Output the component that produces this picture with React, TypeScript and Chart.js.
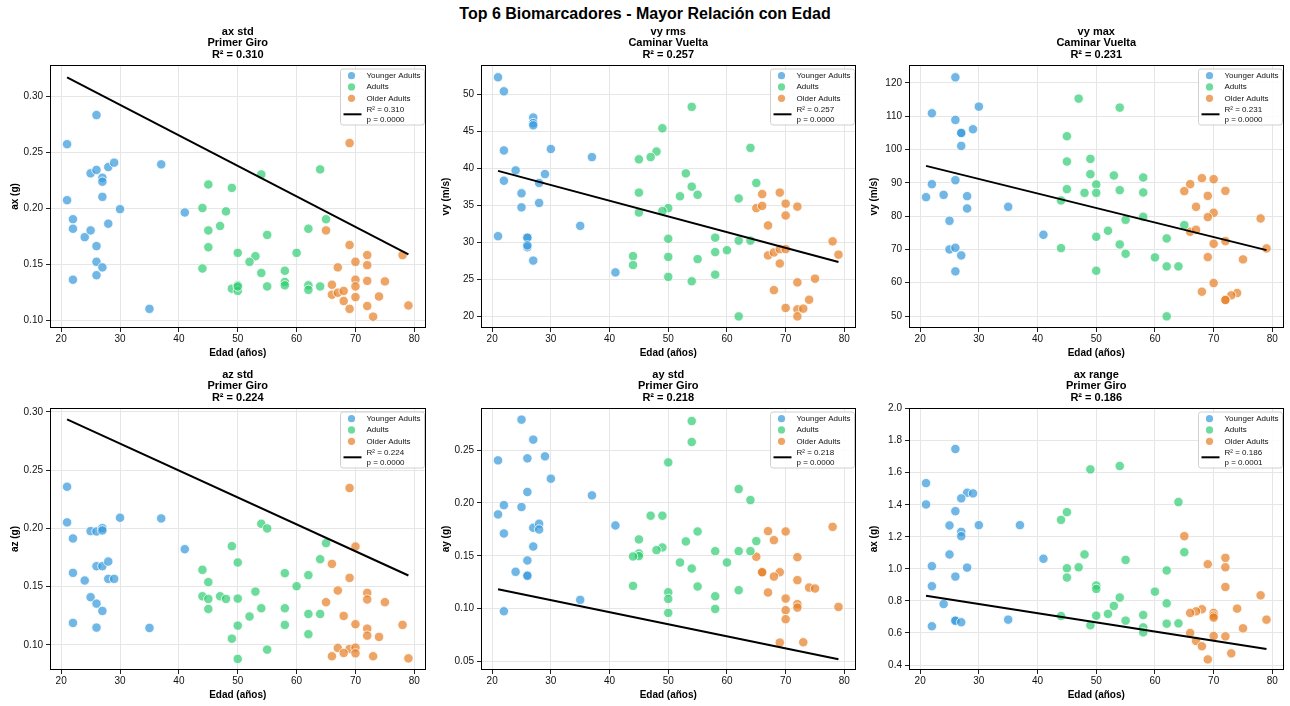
import React, { useEffect, useRef } from 'react';
import { Chart, registerables } from 'chart.js';

Chart.register(...registerables);

type Pt = [number, number];

const FONT = '"Liberation Sans", Arial, Helvetica, sans-serif';
Chart.defaults.font.family = FONT;

const mainTitle = 'Top 6 Biomarcadores - Mayor Relación con Edad';
const groupLabels = ['Younger Adults', 'Adults', 'Older Adults'];
const groupColors = ['rgba(52,152,219,0.7)', 'rgba(46,204,113,0.7)', 'rgba(230,126,34,0.7)'];
const xTitle = 'Edad (años)';
const xTicks = [20, 30, 40, 50, 60, 70, 80];

// 1: ax std - Primer Giro
const axStdYoung: Pt[] = [[21,0.257],[26,0.283],[21,0.207],[22,0.190],[22,0.1815],[22,0.136],[24,0.174],[25,0.180],[25,0.231],[26,0.234],[27,0.227],[27,0.2235],[27,0.210],[28,0.2366],[29,0.2405],[28,0.186],[30,0.199],[26,0.166],[26,0.152],[26,0.140],[27,0.147],[35,0.110],[37,0.239],[41,0.196]];
const axStdAdult: Pt[] = [[54,0.230],[45,0.221],[49,0.218],[44,0.200],[48,0.197],[47,0.184],[45,0.180],[45,0.165],[44,0.146],[55,0.176],[50,0.160],[53,0.157],[52,0.152],[54,0.142],[49,0.128],[50,0.131],[50,0.126],[50,0.130],[55,0.130],[58,0.144],[58,0.134],[58,0.131],[60,0.160],[62,0.1815],[62,0.131],[62,0.127],[64,0.130],[64,0.2345],[65,0.190]];
const axStdOlder: Pt[] = [[69,0.258],[65,0.180],[69,0.167],[78,0.158],[72,0.158],[70,0.152],[72,0.149],[67,0.147],[66,0.1315],[70,0.136],[72,0.135],[75,0.1345],[70,0.130],[66,0.1226],[67,0.1244],[68,0.126],[68,0.117],[70,0.1205],[74,0.121],[69,0.110],[72,0.1125],[73,0.103],[79,0.113]];
const axStdFit: Pt[] = [[21,0.3167],[79,0.1586]];
const axStdTicks = [0.10, 0.15, 0.20, 0.25, 0.30];

// 2: vy rms - Caminar Vuelta
const vyRmsYoung: Pt[] = [[21,52.3],[22,50.4],[22,42.4],[22,38.3],[24,39.7],[25,36.6],[25,34.7],[21,30.8],[27,46.85],[27,46.1],[27,45.8],[26,30.6],[26,30.6],[26,29.3],[26,29.55],[27,27.5],[28,38.0],[28,35.3],[29,39.2],[30,42.6],[35,32.2],[37,41.5],[41,25.9]];
const vyRmsAdult: Pt[] = [[54,48.3],[49,45.4],[48,42.25],[47,41.5],[45,41.2],[53,39.3],[54,37.5],[55,36.4],[52,36.2],[45,36.7],[50,34.6],[49,34.2],[45,34.0],[50,30.45],[58,30.6],[62,35.9],[64,42.75],[65,38.0],[62,30.2],[64,30.2],[60,28.9],[58,28.65],[55,27.7],[50,28.0],[44,28.1],[44,26.9],[50,25.3],[58,25.6],[54,24.7],[62,19.95]];
const vyRmsOlder: Pt[] = [[65,34.6],[66,36.5],[66,34.9],[69,36.7],[70,35.2],[72,34.8],[70,33.6],[67,32.25],[67,28.2],[68,28.6],[69,29.05],[70,29.05],[69,27.1],[78,30.1],[79,28.3],[75,25.05],[72,24.55],[68,23.5],[74,22.2],[70,21.1],[72,20.9],[73,21.0],[72,19.95]];
const vyRmsFit: Pt[] = [[21,39.64],[79,27.30]];
const vyRmsTicks = [20, 25, 30, 35, 40, 45, 50];

// 3: vy max - Caminar Vuelta
const vyMaxYoung: Pt[] = [[26,121.7],[22,110.9],[26,108.9],[30,112.9],[29,106.1],[27,104.9],[27,105.0],[27,101.1],[26,90.8],[22,89.6],[21,85.7],[24,86.4],[28,86.0],[28,82.3],[25,78.6],[25,70.0],[26,70.5],[27,68.2],[26,63.4],[35,82.8],[41,74.4]];
const vyMaxAdult: Pt[] = [[47,115.3],[54,112.6],[45,104.0],[45,96.4],[49,97.2],[49,92.6],[53,92.2],[58,91.6],[50,89.5],[45,88.1],[48,87.0],[50,87.0],[54,87.8],[58,87.1],[44,84.7],[58,79.8],[55,78.9],[65,77.3],[52,75.6],[50,73.8],[62,73.3],[54,71.5],[44,70.4],[55,68.7],[60,67.6],[50,63.6],[62,64.9],[64,64.9],[62,49.9]];
const vyMaxOlder: Pt[] = [[68,91.4],[70,91.1],[66,89.6],[65,87.5],[72,87.6],[69,86.1],[67,82.8],[70,81.0],[69,79.7],[78,79.3],[66,75.3],[67,75.9],[72,72.5],[70,71.7],[79,70.3],[69,67.7],[75,67.0],[70,59.9],[68,57.3],[74,56.9],[73,56.2],[72,54.9],[72,54.8]];
const vyMaxFit: Pt[] = [[21,95.1],[79,69.8]];
const vyMaxTicks = [50, 60, 70, 80, 90, 100, 110, 120];

// 4: az std - Primer Giro
const azStdYoung: Pt[] = [[21,0.2358],[21,0.2052],[22,0.1914],[22,0.1619],[22,0.1189],[24,0.1553],[25,0.1977],[25,0.1410],[26,0.1974],[26,0.1676],[26,0.1355],[26,0.1149],[27,0.2003],[27,0.1983],[27,0.1676],[27,0.1292],[28,0.1716],[28,0.1567],[29,0.1567],[30,0.2092],[35,0.1146],[37,0.2086],[41,0.1822]];
const azStdAdult: Pt[] = [[54,0.2040],[55,0.2000],[65,0.1874],[49,0.1848],[64,0.1736],[50,0.1708],[44,0.1645],[45,0.1539],[58,0.1616],[62,0.1599],[60,0.1504],[53,0.1458],[44,0.1418],[47,0.1418],[48,0.1395],[45,0.1395],[50,0.1398],[45,0.1309],[54,0.1315],[58,0.1315],[52,0.1244],[62,0.1266],[64,0.1266],[50,0.1166],[58,0.1172],[62,0.1092],[49,0.1054],[55,0.0960],[50,0.0880]];
const azStdOlder: Pt[] = [[69,0.2347],[70,0.1845],[66,0.1696],[69,0.1576],[67,0.1467],[72,0.1447],[72,0.1390],[75,0.1367],[65,0.1367],[68,0.1249],[70,0.1178],[78,0.1172],[72,0.1140],[72,0.1080],[74,0.1069],[67,0.0974],[69,0.0966],[70,0.0977],[68,0.0931],[70,0.0928],[66,0.0903],[73,0.0903],[79,0.0885]];
const azStdFit: Pt[] = [[21,0.2937],[79,0.1596]];
const azStdTicks = [0.10, 0.15, 0.20, 0.25, 0.30];

// 5: ay std - Primer Giro
const ayStdYoung: Pt[] = [[25,0.2787],[27,0.2598],[21,0.2402],[26,0.2421],[29,0.2440],[30,0.2229],[26,0.2103],[22,0.1979],[21,0.1891],[25,0.1961],[22,0.1711],[27,0.1765],[28,0.1803],[28,0.1749],[27,0.1588],[26,0.1456],[24,0.1349],[26,0.1317],[26,0.1311],[22,0.0976],[35,0.1084],[37,0.2071],[41,0.1787]];
const ayStdAdult: Pt[] = [[54,0.2774],[54,0.2576],[50,0.2383],[62,0.2131],[64,0.2027],[47,0.1879],[49,0.1879],[55,0.1730],[53,0.1636],[45,0.1655],[65,0.1639],[49,0.1579],[48,0.1554],[45,0.1522],[45,0.1497],[44,0.1494],[58,0.1544],[62,0.1544],[64,0.1544],[52,0.1437],[60,0.1437],[54,0.1380],[44,0.1216],[55,0.1210],[62,0.1175],[50,0.1156],[50,0.1093],[58,0.1118],[58,0.0998],[50,0.0961]];
const ayStdOlder: Pt[] = [[78,0.1774],[67,0.1733],[70,0.1730],[68,0.1648],[65,0.1491],[72,0.1487],[66,0.1345],[66,0.1345],[69,0.1345],[68,0.1304],[72,0.1270],[74,0.1200],[75,0.1191],[67,0.1153],[70,0.1096],[72,0.1043],[72,0.1011],[79,0.1017],[70,0.0986],[70,0.0901],[69,0.0680],[73,0.0683]];
const ayStdFit: Pt[] = [[21,0.1185],[79,0.0522]];
const ayStdTicks = [0.05, 0.10, 0.15, 0.20, 0.25];

// 6: ax range - Primer Giro
const axRangeYoung: Pt[] = [[26,1.748],[21,1.535],[21,1.402],[28,1.475],[29,1.471],[27,1.440],[26,1.360],[25,1.271],[30,1.273],[27,1.231],[27,1.204],[25,1.090],[22,1.017],[28,1.008],[26,0.952],[22,0.892],[24,0.781],[22,0.642],[26,0.675],[26,0.677],[27,0.667],[35,0.683],[37,1.273],[41,1.063]];
const axRangeAdult: Pt[] = [[49,1.621],[54,1.642],[64,1.417],[44,1.306],[45,1.354],[65,1.104],[48,1.090],[55,1.056],[47,1.010],[45,1.004],[62,0.990],[45,0.946],[50,0.896],[50,0.875],[60,0.858],[54,0.821],[62,0.785],[53,0.769],[52,0.719],[50,0.708],[58,0.712],[44,0.706],[55,0.677],[62,0.658],[64,0.660],[58,0.635],[49,0.648],[58,0.604]];
const axRangeOlder: Pt[] = [[65,1.204],[72,1.069],[69,1.029],[72,1.010],[72,0.887],[78,0.835],[74,0.752],[68,0.748],[67,0.735],[66,0.725],[70,0.725],[70,0.708],[70,0.696],[79,0.683],[75,0.629],[66,0.600],[70,0.581],[72,0.579],[67,0.550],[68,0.517],[73,0.473],[69,0.435]];
const axRangeFit: Pt[] = [[21,0.833],[79,0.500]];
const axRangeTicks = [0.4, 0.6, 0.8, 1.0, 1.2, 1.4, 1.6, 1.8, 2.0];

interface Spec {
  title: string[];
  yLabel: string;
  groups: Pt[][];
  fit: Pt[];
  r2: string;
  p: string;
  yTicks: number[];
  yMin: number;
  yMax: number;
  dec: number;
}

const specs: Spec[] = [
  { title: ['ax std', 'Primer Giro', 'R² = 0.310'], yLabel: 'ax (g)', groups: [axStdYoung, axStdAdult, axStdOlder], fit: axStdFit, r2: 'R² = 0.310', p: 'p = 0.0000', yTicks: axStdTicks, yMin: 0.0929, yMax: 0.3277, dec: 2 },
  { title: ['vy rms', 'Caminar Vuelta', 'R² = 0.257'], yLabel: 'vy (m/s)', groups: [vyRmsYoung, vyRmsAdult, vyRmsOlder], fit: vyRmsFit, r2: 'R² = 0.257', p: 'p = 0.0000', yTicks: vyRmsTicks, yMin: 18.38, yMax: 53.96, dec: 0 },
  { title: ['vy max', 'Caminar Vuelta', 'R² = 0.231'], yLabel: 'vy (m/s)', groups: [vyMaxYoung, vyMaxAdult, vyMaxOlder], fit: vyMaxFit, r2: 'R² = 0.231', p: 'p = 0.0000', yTicks: vyMaxTicks, yMin: 46.4, yMax: 125.4, dec: 0 },
  { title: ['az std', 'Primer Giro', 'R² = 0.224'], yLabel: 'az (g)', groups: [azStdYoung, azStdAdult, azStdOlder], fit: azStdFit, r2: 'R² = 0.224', p: 'p = 0.0000', yTicks: azStdTicks, yMin: 0.0785, yMax: 0.3034, dec: 2 },
  { title: ['ay std', 'Primer Giro', 'R² = 0.218'], yLabel: 'ay (g)', groups: [ayStdYoung, ayStdAdult, ayStdOlder], fit: ayStdFit, r2: 'R² = 0.218', p: 'p = 0.0000', yTicks: ayStdTicks, yMin: 0.0421, yMax: 0.2897, dec: 2 },
  { title: ['ax range', 'Primer Giro', 'R² = 0.186'], yLabel: 'ax (g)', groups: [axRangeYoung, axRangeAdult, axRangeOlder], fit: axRangeFit, r2: 'R² = 0.186', p: 'p = 0.0001', yTicks: axRangeTicks, yMin: 0.369, yMax: 2.004, dec: 1 },
];

// layout (plot-area boxes)
const colLeft = [50, 481, 909];
const colWidth = [377, 376, 376];
const rowTop = [65, 408];
const rowHeight = [263, 262];
const Y_AXIS_W = 50;
const TITLE_H = 45;
const X_AXIS_H = 31;
const RIGHT_PAD = 4;

function makeDecor(r2: string, p: string) {
  return {
    id: 'decor',
    afterDraw(chart: any) {
      const { ctx, chartArea: a } = chart;
      ctx.save();
      // frame
      ctx.strokeStyle = '#000';
      ctx.lineWidth = 1;
      ctx.strokeRect(Math.round(a.left) + 0.5, Math.round(a.top) + 0.5, Math.round(a.right - a.left) - 1, Math.round(a.bottom - a.top) - 1);
      // legend box
      const bw = 84, bh = 56;
      const bx = a.right - 1 - bw, by = a.top + 4;
      const r = 2.5;
      ctx.beginPath();
      ctx.moveTo(bx + r, by);
      ctx.lineTo(bx + bw - r, by);
      ctx.arcTo(bx + bw, by, bx + bw, by + r, r);
      ctx.lineTo(bx + bw, by + bh - r);
      ctx.arcTo(bx + bw, by + bh, bx + bw - r, by + bh, r);
      ctx.lineTo(bx + r, by + bh);
      ctx.arcTo(bx, by + bh, bx, by + bh - r, r);
      ctx.lineTo(bx, by + r);
      ctx.arcTo(bx, by, bx + r, by, r);
      ctx.closePath();
      ctx.fillStyle = 'rgba(255,255,255,0.85)';
      ctx.fill();
      ctx.strokeStyle = '#d0d0d0';
      ctx.lineWidth = 1;
      ctx.stroke();
      const mx = a.right - 74;
      const tx = a.right - 59;
      const rowsY = [a.top + 10.7, a.top + 21.9, a.top + 33.3];
      ctx.font = '8px ' + FONT;
      ctx.textBaseline = 'middle';
      ctx.textAlign = 'left';
      groupColors.forEach((c, i) => {
        ctx.beginPath();
        ctx.arc(mx, rowsY[i], 3.6, 0, Math.PI * 2);
        ctx.fillStyle = c;
        ctx.fill();
        ctx.fillStyle = '#111';
        ctx.fillText(groupLabels[i], tx, rowsY[i]);
      });
      ctx.beginPath();
      ctx.moveTo(a.right - 82, a.top + 49.3);
      ctx.lineTo(a.right - 64, a.top + 49.3);
      ctx.strokeStyle = '#000';
      ctx.lineWidth = 2;
      ctx.stroke();
      ctx.fillStyle = '#111';
      ctx.fillText(r2, tx, a.top + 44.6);
      ctx.fillText(p, tx, a.top + 54.3);
      ctx.restore();
    },
  };
}

function SubChart({ spec, col, row }: { spec: Spec; col: number; row: number }) {
  const ref = useRef<HTMLCanvasElement | null>(null);
  const width = colWidth[col] + Y_AXIS_W + RIGHT_PAD;
  const height = rowHeight[row] + TITLE_H + X_AXIS_H;
  const left = colLeft[col] - Y_AXIS_W;
  const top = rowTop[row] - TITLE_H;

  useEffect(() => {
    if (!ref.current) return;
    const toPts = (arr: Pt[]) => arr.map(([x, y]) => ({ x, y }));
    const datasets: any[] = [
      {
        label: 'fit',
        data: toPts(spec.fit),
        showLine: true,
        borderColor: '#000',
        borderWidth: 2,
        pointRadius: 0,
        order: 0,
      },
      ...spec.groups.map((g, i) => ({
        label: groupLabels[i],
        data: toPts(g),
        backgroundColor: groupColors[i],
        borderColor: '#ffffff',
        borderWidth: 0.8,
        pointRadius: 4.7,
        showLine: false,
        order: 1,
      })),
    ];
    const chart = new Chart(ref.current, {
      type: 'scatter',
      data: { datasets },
      options: {
        animation: false,
        responsive: false,
        devicePixelRatio: 1,
        layout: { padding: { left: 0, top: 0, right: RIGHT_PAD, bottom: 0 } },
        plugins: {
          legend: { display: false },
          tooltip: { enabled: false },
          title: {
            display: true,
            fullSize: false,
            text: spec.title,
            color: '#000',
            font: { size: 11, weight: 'bold', lineHeight: '11.5px' as any, family: FONT },
            padding: { top: 6, bottom: 4.5 },
          },
        },
        scales: {
          x: {
            type: 'linear',
            min: 18.1,
            max: 81.9,
            afterBuildTicks: (s: any) => { s.ticks = xTicks.map((v) => ({ value: v })); },
            afterFit: (s: any) => { s.height = X_AXIS_H; },
            ticks: { color: '#111', font: { size: 10, family: FONT }, padding: 1, maxRotation: 0, callback: (v: any) => String(v) },
            grid: { color: '#e6e6e6', lineWidth: 1, tickLength: 4, tickColor: '#222', drawTicks: true },
            border: { display: false },
            title: { display: true, text: xTitle, color: '#000', font: { size: 10, weight: 'bold', family: FONT }, padding: { top: 0, bottom: 0 } },
          },
          y: {
            type: 'linear',
            min: spec.yMin,
            max: spec.yMax,
            afterBuildTicks: (s: any) => { s.ticks = spec.yTicks.map((v) => ({ value: v })); },
            afterFit: (s: any) => { s.width = Y_AXIS_W; },
            ticks: { color: '#111', font: { size: 10, family: FONT }, padding: 3, callback: (v: any) => Number(v).toFixed(spec.dec) },
            grid: { color: '#e6e6e6', lineWidth: 1, tickLength: 4, tickColor: '#222', drawTicks: true },
            border: { display: false },
            title: { display: true, text: spec.yLabel, color: '#000', font: { size: 10, weight: 'bold', family: FONT }, padding: { top: 9, bottom: 0 } },
          },
        },
      } as any,
      plugins: [makeDecor(spec.r2, spec.p)],
    });
    return () => chart.destroy();
  }, [spec]);

  return (
    <canvas
      ref={ref}
      width={width}
      height={height}
      style={{ position: 'absolute', left, top, width, height }}
    />
  );
}

export default function App() {
  return (
    <div style={{ position: 'absolute', left: 0, top: 0, width: 1290, height: 706, background: '#fff', overflow: 'hidden' }}>
      <div
        style={{
          position: 'absolute',
          left: 0,
          top: 0,
          width: 1290,
          height: 28,
          lineHeight: '28px',
          textAlign: 'center',
          fontFamily: FONT,
          fontWeight: 'bold',
          fontSize: 16,
          color: '#000',
        }}
      >
        {mainTitle}
      </div>
      {specs.map((s, i) => (
        <SubChart key={i} spec={s} col={i % 3} row={Math.floor(i / 3)} />
      ))}
    </div>
  );
}
